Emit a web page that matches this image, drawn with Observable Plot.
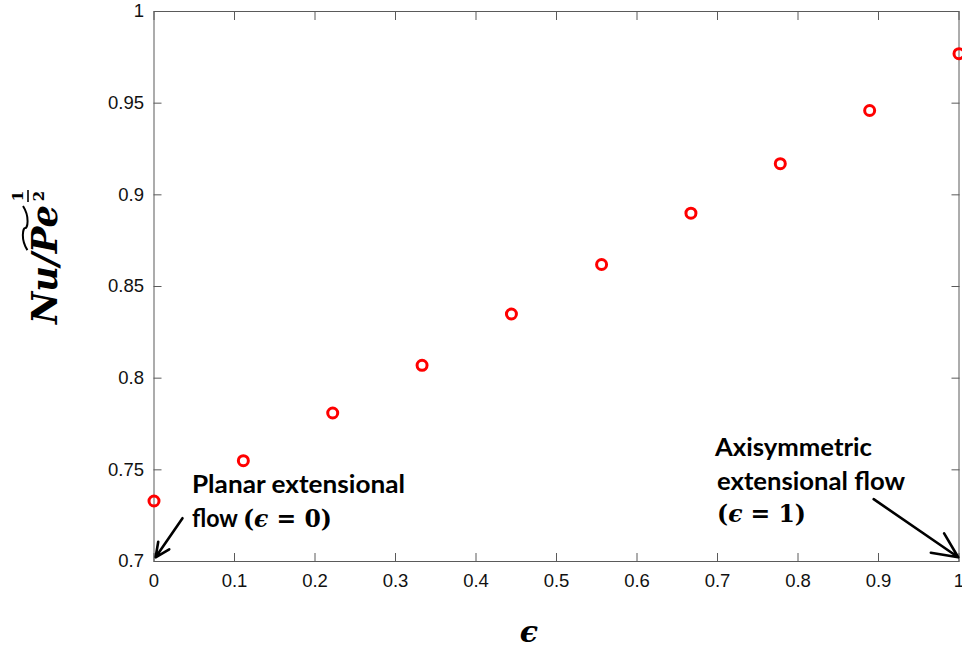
<!DOCTYPE html>
<html>
<head>
<meta charset="utf-8">
<script src="https://cdn.jsdelivr.net/npm/d3@7"></script>
<script src="https://cdn.jsdelivr.net/npm/@observablehq/plot@0.6"></script>
<style>
  body { margin: 0; background: #fff; }
  #chart svg { display: block; }
  text { white-space: pre; }
</style>
</head>
<body>
<div id="chart"></div>
<script>
// Strain-type parameter ε and the scaled Nusselt number Nu / Pe^(1/2)
const epsilon = [0, 0.111, 0.222, 0.333, 0.444, 0.556, 0.667, 0.778, 0.889, 1];
const nuRatio = [0.733, 0.755, 0.781, 0.807, 0.835, 0.862, 0.890, 0.917, 0.946, 0.977];

const xTicks = [0, 0.1, 0.2, 0.3, 0.4, 0.5, 0.6, 0.7, 0.8, 0.9, 1];
const xTickLabels = ["0", "0.1", "0.2", "0.3", "0.4", "0.5", "0.6", "0.7", "0.8", "0.9", "1"];
const yTicks = [0.7, 0.75, 0.8, 0.85, 0.9, 0.95, 1];
const yTickLabels = ["0.7", "0.75", "0.8", "0.85", "0.9", "0.95", "1"];

const points = epsilon.map((e, i) => ({eps: e, nu: nuRatio[i]}));

// Callout arrows (data units): tail -> head at the two limiting flows
const arrows = [
  {x1: 0.0354, y1: 0.7236, x2: 0.002, y2: 0.7023},
  {x1: 0.894, y1: 0.734, x2: 0.999, y2: 0.7023}
];

const axisColor = "#5a5a5a";

const plot = Plot.plot({
  width: 962,
  height: 654,
  marginLeft: 153.5,
  marginRight: 3.5,
  marginTop: 11,
  marginBottom: 93,
  style: {
    fontFamily: "'Liberation Sans', Arial, sans-serif",
    fontSize: "18px",
    color: "#111",
    background: "#fff",
    overflow: "visible"
  },
  x: {domain: [0, 1]},
  y: {domain: [0.7, 1]},
  marks: [
    Plot.frame({stroke: axisColor, strokeWidth: 1}),
    // inward ticks on all four sides
    Plot.axisX(xTicks, {anchor: "bottom", tickSize: -8, fill: "none", stroke: axisColor}),
    Plot.axisX(xTicks, {anchor: "top", tickSize: -8, fill: "none", stroke: axisColor}),
    Plot.axisY(yTicks, {anchor: "left", tickSize: -8, fill: "none", stroke: axisColor}),
    Plot.axisY(yTicks, {anchor: "right", tickSize: -8, fill: "none", stroke: axisColor}),
    // tick labels
    Plot.axisX(xTicks, {anchor: "bottom", tickSize: 0, tickPadding: 12, label: null, fontSize: 18.5,
      tickFormat: d => xTickLabels[xTicks.indexOf(d)]}),
    Plot.axisY(yTicks, {anchor: "left", tickSize: 0, tickPadding: 10, label: null, fontSize: 18.5,
      tickFormat: d => yTickLabels[yTicks.indexOf(d)]}),
    Plot.dot(points, {x: "eps", y: "nu", r: 5, stroke: "#ff0000", strokeWidth: 3, fill: "none"}),
    Plot.arrow(arrows, {x1: "x1", y1: "y1", x2: "x2", y2: "y2", stroke: "#000",
      strokeWidth: 2.6, headLength: 16, headAngle: 50})
  ]
});

document.getElementById("chart").appendChild(plot);

const svg = d3.select(plot);
const sx = plot.scale("x");
const sy = plot.scale("y");

const SANS = "Lato, 'Open Sans', sans-serif";
const SERIF = "'DejaVu Serif', serif";

function richText(x, y, parts, length) {
  const t = svg.append("text").attr("x", x).attr("y", y)
    .attr("text-anchor", "start").attr("fill", "#000");
  for (const p of parts) {
    const s = t.append("tspan")
      .text(p.t)
      .attr("font-family", p.f)
      .attr("font-weight", "bold")
      .attr("font-style", p.s || "normal")
      .attr("font-size", p.z);
    if (p.len) s.attr("textLength", p.len).attr("lengthAdjust", "spacingAndGlyphs");
  }
  if (length) t.attr("textLength", length).attr("lengthAdjust", "spacingAndGlyphs");
  return t;
}

// Callout text, anchored in data units
const annSize = 24, mathSize = 23.5;
richText(sx.apply(0.0478), sy.apply(0.7372), [{t: "Planar extensional", f: SANS, z: annSize}], 213);
richText(sx.apply(0.0478), sy.apply(0.7187), [
  {t: "flow ", f: SANS, z: annSize, len: 51},
  {t: "(", f: SERIF, z: mathSize},
  {t: "ϵ", f: SERIF, z: mathSize, s: "italic"},
  {t: " = 0)", f: SERIF, z: mathSize}
]);
richText(sx.apply(0.6975), sy.apply(0.7574), [{t: "Axisymmetric", f: SANS, z: annSize}], 157);
richText(sx.apply(0.700), sy.apply(0.7388), [{t: "extensional flow", f: SANS, z: annSize}], 188);
richText(sx.apply(0.700), sy.apply(0.7214), [
  {t: "(", f: SERIF, z: mathSize},
  {t: "ϵ", f: SERIF, z: mathSize, s: "italic"},
  {t: " = 1)", f: SERIF, z: mathSize}
]);

// x-axis title
svg.append("text")
  .attr("x", 529).attr("y", 642)
  .attr("text-anchor", "middle")
  .attr("font-family", SERIF).attr("font-weight", "bold").attr("font-style", "italic")
  .attr("font-size", 30).attr("fill", "#000")
  .text("ϵ");

// y-axis title: Nu / P̃e^(1/2), rotated
const g = svg.append("g").attr("transform", "translate(57,324) rotate(-90)");
const main = g.append("text")
  .attr("text-anchor", "start")
  .attr("font-family", SERIF).attr("font-weight", "bold").attr("font-style", "italic")
  .attr("font-size", 28).attr("fill", "#000");
const tNu = main.append("tspan").text("Nu/");
const tPe = main.append("tspan").text("Pe");
let total = main.node().getComputedTextLength();
const fs = 28 * 119 / total;
main.attr("font-size", fs);
total = main.node().getComputedTextLength();
const peStart = tNu.node().getComputedTextLength();
const capH = fs * 0.73;
// tilde over "Pe"
const ta = peStart + 3, tb = total - 1, ty = -capH - 6, amp = 2.2;
const tw = tb - ta;
g.append("path")
  .attr("d", `M${ta},${ty + amp}C${ta + tw * 0.25},${ty - amp * 2.2} ${ta + tw * 0.5},${ty - amp} ${ta + tw * 0.5},${ty}S${ta + tw * 0.75},${ty + amp * 2.2} ${tb},${ty - amp}`)
  .attr("fill", "none").attr("stroke", "#000").attr("stroke-width", 2);
// exponent 1/2
const cx = total + 9;
g.append("text").attr("x", cx).attr("y", -34).attr("text-anchor", "middle")
  .attr("font-family", SERIF).attr("font-weight", "bold").attr("font-size", 15).attr("fill", "#000").text("1");
g.append("line").attr("x1", cx - 6).attr("x2", cx + 6).attr("y1", -29).attr("y2", -29)
  .attr("stroke", "#000").attr("stroke-width", 1.6);
g.append("text").attr("x", cx).attr("y", -13).attr("text-anchor", "middle")
  .attr("font-family", SERIF).attr("font-weight", "bold").attr("font-size", 15).attr("fill", "#000").text("2");
</script>
</body>
</html>
